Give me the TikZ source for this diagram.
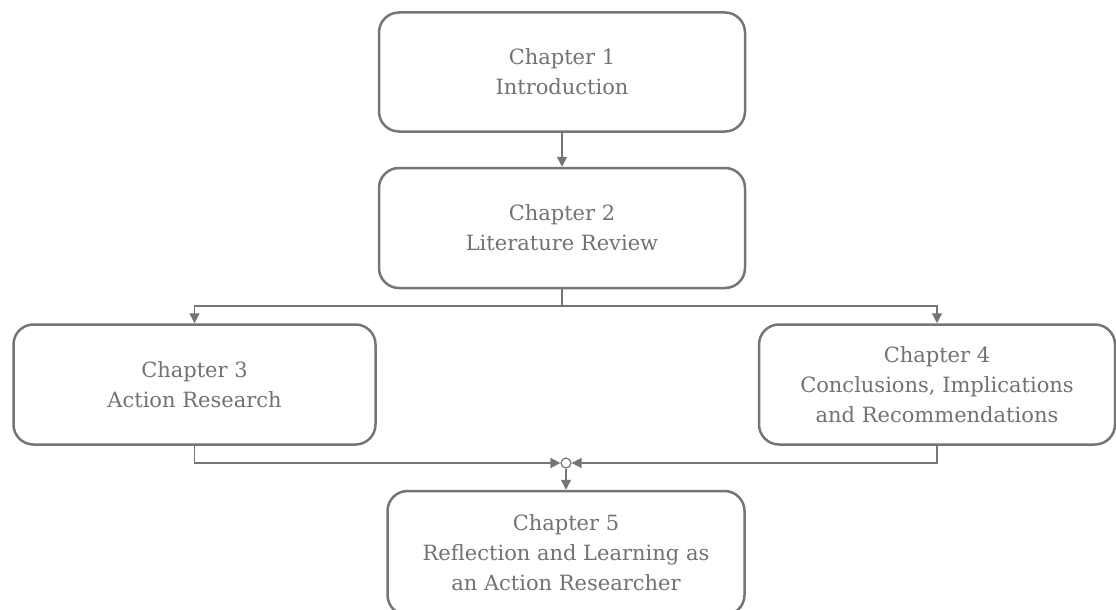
\documentclass[tikz,border=0pt]{standalone}
\usepackage{fontspec}
\setmainfont{DejaVu Serif}
\usetikzlibrary{arrows.meta}
\definecolor{edgegray}{HTML}{757575}
\definecolor{textgray}{HTML}{727272}
\tikzset{
  chap/.style={draw=edgegray,line width=2.5pt,rounded corners=20pt,fill=white,
    align=center,text=textgray,font=\fontsize{21}{30}\selectfont,inner sep=4pt},
  conn/.style={draw=edgegray,line width=1.4pt},
  flow/.style={conn,-{Triangle[length=10pt,width=10pt]}},
  junc/.style={circle,draw=edgegray,line width=1.2pt,fill=white,minimum size=10pt,inner sep=0pt}
}
\begin{document}
\begin{tikzpicture}[x=1pt,y=-1pt]
  \useasboundingbox (0,0) rectangle (1116,610);
  \node[chap,minimum width=366pt,minimum height=119pt] (ch1) at (562,72) {Chapter 1\\Introduction};
  \node[chap,minimum width=366pt,minimum height=120pt] (ch2) at (562,228) {Chapter 2\\Literature Review};
  \node[chap,minimum width=362pt,minimum height=120pt] (ch3) at (194.5,384.5) {Chapter 3\\Action Research};
  \node[chap,minimum width=356pt,minimum height=120pt] (ch4) at (937,384.5) {Chapter 4\\Conclusions, Implications\\and Recommendations};
  \node[chap,minimum width=357pt,minimum height=124pt] (ch5) at (566,553) {Chapter 5\\Reflection and Learning as\\an Action Researcher};
  \node[junc] (jn) at (566,463) {};
  \coordinate (br) at (562,306);
  % connectors
  \draw[flow] (ch1) -- (ch2);
  \draw[conn] (ch2) -- (br);
  \draw[flow] (br) -| (ch3.north);
  \draw[flow] (br) -| (ch4.north);
  \draw[flow] (ch3.south) |- (jn.west);
  \draw[flow] (ch4.south) |- (jn.east);
  \draw[flow] (jn) -- (ch5);
\end{tikzpicture}
\end{document}
